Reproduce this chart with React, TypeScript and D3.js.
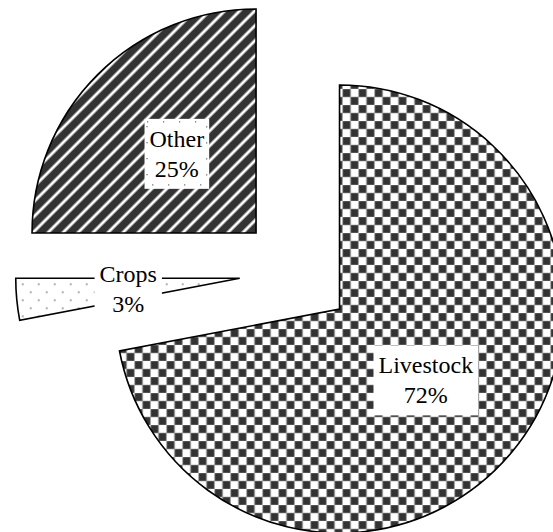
import React from "react";
import * as d3 from "d3";

const categories = ["Livestock", "Crops", "Other"];
const values = [72, 3, 25];
const percentLabels = ["72%", "3%", "25%"];
const patterns = ["checker", "dots", "stripes"];

const W = 553;
const H = 532;
const CX = 296;
const CY = 273;
const R = 224;
const EXPLODE = 56.5;
const FONT = 24;
const FONT_FAMILY = "Liberation Serif, Times New Roman, serif";

export default function App() {
  const pie = d3
    .pie<number>()
    .sort(null)
    .startAngle(0)
    .endAngle(2 * Math.PI)
    .value((d) => d);
  const arcs = pie(values);
  const arc = d3.arc<d3.PieArcDatum<number>>().innerRadius(0).outerRadius(R);

  const measure = (s: string) => {
    const w: Record<string, number> = {
      L: 0.611, i: 0.278, v: 0.5, e: 0.444, s: 0.389, t: 0.278, o: 0.5, c: 0.444, k: 0.5,
      C: 0.667, r: 0.333, p: 0.5, O: 0.722, h: 0.5, "%": 0.833,
    };
    let t = 0;
    for (const ch of s) t += w[ch] ?? 0.5;
    return t * FONT;
  };

  return (
    <svg
      width={W}
      height={H}
      style={{ position: "absolute", left: 0, top: 0, background: "#fff" }}
    >
      <defs>
        <pattern id="checker" patternUnits="userSpaceOnUse" width={16} height={16} x={3} y={4}>
          <rect width={16} height={16} fill="#fff" />
          <rect x={0} y={0} width={8} height={8} fill="#333" stroke="#999" strokeWidth={0.6} />
          <rect x={8} y={8} width={8} height={8} fill="#333" stroke="#999" strokeWidth={0.6} />
        </pattern>
        <pattern
          id="stripes"
          patternUnits="userSpaceOnUse"
          width={10.6}
          height={10.6}
          patternTransform="rotate(45)"
        >
          <rect width={10.6} height={10.6} fill="#333" />
          <rect x={0} y={0} width={2} height={10.6} fill="#fff" />
          <rect x={-0.8} y={0} width={0.8} height={10.6} fill="#aaa" />
          <rect x={2} y={0} width={0.8} height={10.6} fill="#aaa" />
          <rect x={9.8} y={0} width={0.8} height={10.6} fill="#aaa" />
        </pattern>
        <pattern id="dots" patternUnits="userSpaceOnUse" width={16} height={16} x={3} y={2}>
          <rect width={16} height={16} fill="#fff" />
          <circle cx={4} cy={4} r={0.9} fill="#888" />
          <circle cx={12} cy={12} r={0.9} fill="#888" />
        </pattern>
      </defs>
      {arcs.map((a, i) => {
        const mid = (a.startAngle + a.endAngle) / 2;
        const dx = Math.sin(mid) * EXPLODE;
        const dy = -Math.cos(mid) * EXPLODE;
        return (
          <g key={categories[i]} transform={`translate(${CX + dx},${CY + dy})`}>
            <path d={arc(a) || ""} fill={`url(#${patterns[i]})`} stroke="#000" strokeWidth={1.6} strokeLinejoin="miter" />
          </g>
        );
      })}
      {arcs.map((a, i) => {
        const mid = (a.startAngle + a.endAngle) / 2;
        const dx = Math.sin(mid) * EXPLODE;
        const dy = -Math.cos(mid) * EXPLODE;
        const lx = CX + dx + Math.sin(mid) * R * 0.5;
        const ly = CY + dy - Math.cos(mid) * R * 0.5;
        const tw = Math.max(measure(categories[i]), measure(percentLabels[i]));
        const bw = tw + 10;
        const bh = 70;
        return (
          <g key={"l" + categories[i]} transform={`translate(${lx},${ly})`}>
            <rect x={-bw / 2} y={-bh / 2} width={bw} height={bh} fill="#fff" />
            {patterns[i] === "stripes" && (
              <rect
                x={-bw / 2 + 2.5}
                y={-bh / 2 + 3}
                width={bw - 5}
                height={bh - 7}
                fill="none"
                stroke="#666"
                strokeWidth={1.2}
                strokeDasharray="1.2 14.8"
              />
            )}
            <text textAnchor="middle" fontSize={FONT} y={-7} fill="#000" style={{ fontFamily: FONT_FAMILY }}>
              {categories[i]}
            </text>
            <text textAnchor="middle" fontSize={FONT} y={23} fill="#000" style={{ fontFamily: FONT_FAMILY }}>
              {percentLabels[i]}
            </text>
          </g>
        );
      })}
    </svg>
  );
}
